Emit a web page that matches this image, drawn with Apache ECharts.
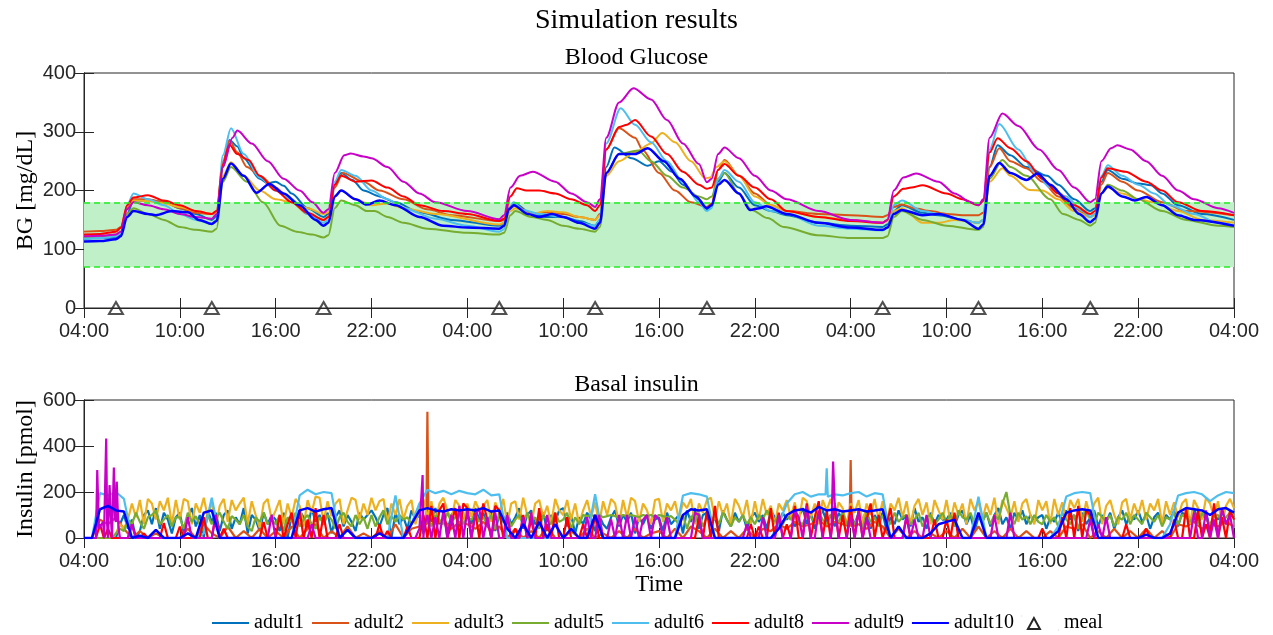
<!DOCTYPE html>
<html>
<head>
<meta charset="utf-8">
<title>Simulation results</title>
<script src="https://cdn.jsdelivr.net/npm/echarts@6/dist/echarts.min.js"></script>
<style>
html, body { margin: 0; padding: 0; background: #fff; }
#chart { width: 1273px; height: 635px; }
</style>
</head>
<body>
<div id="chart"></div>
<script>
// hours since 04:00 on day 1
const names = ['adult1', 'adult2', 'adult3', 'adult5', 'adult6', 'adult8', 'adult9', 'adult10'];
const colors = ['#0072BD', '#D95319', '#EDB120', '#77AC30', '#4DBEEE', '#FF0000', '#C800C8', '#0000FF'];
const mealHours = [2, 8, 15, 26, 32, 39, 50, 56, 63];

// blood glucose [hour, mg/dL]
const bg1 = [[0,118],[1,119],[2,120],[2.3,124],[2.7,160],[3.1,183],[4,182],[5,181],[6,170],[7,160],[8,150],
  [8.3,156],[8.7,240],[9.1,286],[9.6,275],[10,255],[11,220],[11.5,212],[12,215],[12.5,208],[13,195],[14,170],[15,155],
  [15.3,160],[15.7,210],[16.1,230],[16.8,218],[17.5,200],[18.5,190],[19.5,180],[21,163],[23,150],[26,140],
  [26.3,145],[26.6,170],[27,178],[28,160],[29,155],[30,155],[31,148],[32,140],
  [32.3,150],[32.7,240],[33.2,273],[34.3,255],[35.3,242],[36,250],[36.8,232],[37.5,210],[38.5,185],[39,168],
  [39.3,175],[39.7,215],[40.1,230],[41,205],[42,175],[43,165],[44,158],[46,145],[48,140],[50,138],
  [50.3,142],[50.7,165],[51.2,175],[52.5,162],[53.5,158],[55,150],[56,145],
  [56.3,150],[56.7,240],[57.2,277],[58,260],[59,240],[60.3,225],[61,210],[62,185],[63,165],
  [63.3,170],[63.7,215],[64.1,235],[65,220],[66,212],[66.8,209],[67.5,195],[68.5,175],[70,160],[72,150]];
const bg2 = [[0,130],[1,131],[2,133],[2.3,138],[2.7,170],[3.1,185],[4,185],[5,180],[6,170],[7,162],[8,160],
  [8.3,165],[8.7,250],[9.1,285],[9.6,265],[10.2,240],[11,225],[12,205],[13,180],[14,160],[15,150],
  [15.3,155],[15.7,205],[16.2,230],[17.5,215],[18.5,200],[20,185],[21.5,168],[23,158],[26,148],
  [26.3,150],[26.7,170],[27,175],[28,160],[29,163],[30,160],[31,155],[32,150],
  [32.3,160],[32.7,270],[33.5,306],[34.5,290],[35,268],[36,230],[37,200],[38,180],[39,172],
  [39.3,178],[39.7,235],[40.1,252],[41,225],[42,195],[43,175],[44,165],[46,160],[48,158],[50,155],
  [50.3,158],[50.7,172],[51.2,176],[52,170],[53,165],[54,160],[55,158],[56,158],
  [56.3,162],[56.7,240],[57.3,272],[58,250],[59,238],[60,215],[61,190],[62,170],[63,155],
  [63.3,160],[63.7,210],[64.1,230],[65,215],[66,200],[67.5,180],[69,165],[72,158]];
const bg3 = [[0,122],[1,123],[2,125],[2.3,130],[2.7,168],[3.1,183],[4,182],[5,178],[6,172],[7,165],[8,160],
  [8.3,163],[8.7,225],[9.2,248],[10,225],[11,200],[12,185],[13,180],[14,170],[15,160],
  [15.3,163],[15.7,190],[16.1,200],[17,185],[18,175],[19,178],[20,170],[22,160],[26,142],
  [26.3,145],[26.7,165],[27,170],[28,160],[29,165],[30,163],[31,155],[32,150],
  [32.3,158],[32.7,225],[33.5,250],[34.5,265],[35.5,280],[36.2,298],[37,282],[38,250],[38.9,221],
  [39.2,222],[39.6,240],[40.1,250],[41,225],[42,190],[43,175],[44,165],[46,155],[48,150],[50,145],
  [50.3,148],[50.7,165],[51.2,170],[52.5,145],[53.5,145],[54.5,150],[56,145],
  [56.3,150],[56.7,215],[57.5,238],[58,225],[59.2,201],[60,200],[61,185],[62,165],[63,155],
  [63.3,158],[63.7,195],[64.1,205],[65,195],[66,185],[67,180],[68.5,165],[70,150],[72,145]];
const bg5 = [[0,120],[1,121],[2,123],[2.3,128],[2.7,160],[3.1,170],[4,160],[5,150],[6,138],[7,133],[8,130],
  [8.3,135],[8.7,215],[9.2,240],[10.2,215],[11.2,180],[12.3,140],[13.3,130],[14.3,125],[15,120],
  [15.3,124],[15.7,170],[16.1,183],[17,175],[17.7,165],[18.2,165],[19,155],[20,145],[21.5,135],[24,128],[26,125],
  [26.3,128],[26.7,158],[27,165],[28,155],[29,150],[30,140],[31,135],[32,130],
  [32.3,138],[32.7,230],[33.5,262],[34.7,268],[35.5,250],[36.5,225],[37.5,205],[38.5,190],[39,185],
  [39.3,190],[39.7,220],[40.1,230],[41,195],[41.8,167],[42.8,153],[43.8,138],[45.9,124],[48,119],[50,119],
  [50.3,122],[50.7,155],[51.2,165],[52.5,150],[54,140],[56,133],
  [56.3,138],[56.7,220],[57.5,252],[58,240],[59,225],[60.5,185],[61.3,160],[62.3,150],[63,140],
  [63.3,145],[63.7,195],[64.1,210],[65,200],[66,185],[67.5,165],[69,150],[71,140],[72,138]];
const bg6 = [[0,118],[1,119],[2,122],[2.3,128],[2.7,175],[3.1,195],[4,185],[5,175],[6,160],[7,150],[8,143],
  [8.3,150],[8.7,260],[9.2,306],[10,262],[11,222],[12,200],[13,185],[14,160],[15,145],
  [15.3,150],[15.7,215],[16.1,235],[17,225],[18,200],[19,185],[20,170],[22,152],[24,140],[26,130],
  [26.3,134],[26.6,170],[26.9,180],[27.5,167],[28.5,160],[30,155],[31,145],[32,140],
  [32.3,150],[32.7,280],[33.6,340],[34.5,312],[35.5,282],[36.5,250],[37.5,215],[38.5,180],[39,165],
  [39.3,170],[39.7,220],[40.1,235],[41,215],[42,180],[43,165],[44,160],[46,140],[48,135],[50,132],
  [50.3,136],[50.7,175],[51.2,183],[52.5,165],[53.5,160],[55,150],[56,145],
  [56.3,150],[56.7,270],[57.3,313],[58.5,270],[59.5,232],[60.5,205],[61.5,190],[62.5,165],[63,155],
  [63.3,160],[63.7,225],[64.1,243],[65,225],[66,210],[67,195],[68,175],[69.5,160],[71,145],[72,140]];
const bg8 = [[0,125],[1,126],[2,130],[2.3,136],[2.7,175],[3.1,188],[4,192],[5,183],[6,175],[7,165],[8,160],
  [8.3,165],[8.7,245],[9.1,278],[9.6,262],[10.3,252],[11,225],[12,200],[13,180],[14,162],[15,150],
  [15.3,155],[15.7,210],[16.1,225],[17,215],[18,217],[19,205],[20,190],[21,175],[22.5,165],[24,160],[26,148],
  [26.3,152],[26.7,190],[27.1,204],[27.7,200],[28.5,200],[29.5,195],[30.5,185],[31.5,175],[32,165],
  [32.3,175],[32.7,270],[33.5,308],[34,312],[34.5,320],[35.5,292],[36.5,262],[37.5,232],[38.5,210],[39,203],
  [39.3,205],[39.7,235],[40.1,245],[41,225],[42,205],[43,185],[44,165],[46,155],[48,148],[50,145],
  [50.3,150],[50.7,190],[51.3,203],[51.8,205],[52.5,209],[54,195],[55,185],[56,175],
  [56.3,182],[56.7,265],[57.2,289],[58,272],[59,250],[60,220],[61,195],[62,175],[63,160],
  [63.3,165],[63.7,222],[64.1,238],[65.2,232],[66.5,215],[67.5,200],[68.5,180],[70,165],[72,158]];
const bg9 = [[0,122],[1,123],[2,125],[2.3,130],[2.7,168],[3.1,180],[4,175],[5,168],[6,160],[7,155],[8,152],
  [8.3,160],[8.7,240],[9.3,290],[9.6,302],[10.5,280],[11.5,250],[12.5,220],[13.5,200],[14.3,180],[15,162],
  [15.3,168],[15.7,230],[16.3,260],[16.7,263],[17.5,258],[18,255],[19,240],[20,215],[21,195],[22,180],[24,165],[26,151],
  [26.3,158],[26.7,205],[27.3,225],[28.1,232],[29.5,215],[30.5,195],[31.5,180],[32,172],
  [32.3,185],[32.7,290],[33.5,350],[34.4,374],[35.5,355],[36.5,320],[37.5,280],[38.5,245],[39,214],
  [39.3,220],[39.7,262],[40.1,273],[41,255],[42,225],[43,200],[44,185],[46,165],[48,150],[50,145],
  [50.3,150],[50.7,200],[51.3,222],[52.1,229],[53.5,215],[54.5,195],[55.5,180],[56,175],
  [56.3,185],[56.7,290],[57.5,331],[58.5,310],[59.8,270],[61,235],[62,205],[63,180],
  [63.3,185],[63.7,250],[64.3,272],[64.7,277],[65.5,270],[66.5,250],[67.5,225],[68.5,200],[69.5,185],[71,170],[72,162]];
const bg10 = [[0,113],[1,114],[2,117],[2.3,122],[2.7,155],[3.1,165],[4,160],[4.5,158],[5.5,165],[6.5,163],[7.2,150],[8,143],
  [8.3,148],[8.7,220],[9.2,246],[10,225],[10.8,196],[11.6,211],[12.5,195],[13.5,175],[14.5,150],[15,140],
  [15.3,145],[15.7,190],[16.1,200],[17,185],[17.7,176],[18.5,183],[19.5,175],[21,155],[22.5,140],[24,137],[26,135],
  [26.3,140],[26.6,168],[26.9,175],[27.8,160],[28.5,155],[29.3,160],[30,155],[31,145],[32,135],
  [32.3,145],[32.7,230],[33.5,262],[34.5,262],[35.3,272],[36.3,250],[37.3,220],[38.3,190],[39,170],
  [39.3,175],[39.7,210],[40.1,218],[41,195],[41.7,167],[42.3,170],[42.7,173],[44,160],[46,145],[48,137],[50,133],
  [50.3,137],[50.7,160],[51.2,167],[52.5,158],[53.5,160],[55,150],[56,135],
  [56.3,142],[56.7,225],[57.3,247],[58,230],[59,218],[59.7,229],[60.5,210],[61.5,185],[62.3,160],[63,146],
  [63.3,152],[63.7,195],[64.1,207],[65,190],[65.8,183],[66.5,189],[67.5,175],[68.5,158],[69.5,150],[72,140]];

// basal insulin [pmol] from 04:00 to 04:00: noisy pumps every 15 min (289 values),
// the steadier ones every 30 min (145 values); one row = 6 hours
const ins1 = [0,0,0,0,0,0,0,0,0,60,100,40,80,0,30,100,120,60,130,40,110,80,20,90,
  110,20,90,130,50,100,0,120,70,110,30,100,120,40,90,60,130,20,100,80,30,110,60,100,
  80,30,110,0,100,60,120,90,40,130,70,100,60,110,20,90,120,50,100,70,30,110,80,100,
  120,90,50,100,130,0,110,60,90,40,120,80,100,20,110,70,130,60,90,30,100,120,50,80,
  100,60,130,80,110,50,120,30,100,70,110,60,90,130,40,100,120,60,80,110,30,100,70,120,
  130,50,100,20,90,60,110,80,30,100,60,40,90,120,50,100,70,110,20,90,60,100,40,80,
  90,30,110,60,80,100,20,120,70,130,40,100,110,60,90,30,120,80,50,110,70,100,40,90,
  110,70,100,40,120,90,60,110,80,100,50,90,130,60,110,40,90,120,70,100,50,110,80,60,
  100,60,110,80,120,40,100,70,110,30,90,60,120,80,100,50,130,70,90,40,110,60,100,80,
  80,110,50,100,120,60,100,30,90,70,110,50,100,130,60,90,40,110,80,120,60,100,70,90,
  100,40,90,70,110,60,120,80,100,30,110,60,90,120,50,100,70,110,40,90,120,60,100,80,
  120,70,100,40,90,110,60,100,80,120,50,110,100,60,130,70,90,110,40,100,80,120,60,100,
  90];
const ins2 = [0,0,80,60,90,40,0,30,0,20,0,0,
  0,40,0,60,20,0,50,0,30,0,40,0,
  30,0,50,0,40,60,0,30,0,50,0,20,
  0,30,0,60,0,40,50,549,60,80,40,70,
  60,40,70,30,50,0,40,0,30,0,50,0,
  0,30,0,40,0,20,0,30,0,40,0,20,
  30,0,40,0,50,30,0,40,0,30,0,40,
  0,40,30,60,40,70,50,60,80,50,70,60,
  339,60,40,70,50,0,40,0,30,0,20,0,
  30,0,40,0,50,0,30,0,40,0,30,0,
  0,30,0,50,40,60,0,30,0,40,0,30,
  0,40,0,30,0,60,50,70,40,60,50,70,
  50];
const ins3 = [0,0,0,0,0,0,0,0,20,60,40,80,150,90,165,60,170,150,80,160,120,175,60,165,
  80,170,160,60,150,110,175,90,160,50,140,170,70,165,120,150,175,60,160,100,45,150,170,80,
  120,165,60,150,90,170,140,50,165,110,180,175,70,160,95,150,170,60,120,175,165,80,150,100,
  175,120,160,170,60,150,100,170,80,140,165,60,130,170,90,160,60,150,175,120,80,165,140,60,
  150,90,160,120,140,165,70,155,110,170,60,150,160,80,175,100,60,150,165,90,140,60,170,120,
  100,165,80,150,60,120,165,90,155,60,160,100,170,150,60,165,90,175,160,70,150,120,60,165,
  170,70,150,120,160,80,155,130,170,60,150,110,165,175,80,160,100,150,60,170,140,90,165,60,
  160,80,170,100,140,60,150,120,165,90,155,70,175,160,90,150,60,165,120,170,80,155,130,60,
  150,110,165,60,150,100,170,80,160,60,150,120,175,90,160,60,140,170,100,155,60,165,120,80,
  165,70,155,100,150,60,170,120,160,80,150,100,175,60,165,130,90,160,70,150,170,100,60,165,
  120,160,60,170,100,155,80,165,130,170,70,160,90,150,175,60,140,165,100,60,155,170,80,150,
  100,165,80,150,120,170,60,160,100,155,90,150,170,60,165,130,80,175,150,90,160,60,140,170,
  130];
const ins5 = [0,0,0,0,0,0,0,0,20,40,30,80,60,110,70,40,90,100,120,60,80,100,50,90,
  90,40,110,70,95,60,30,100,60,85,110,70,40,95,80,60,100,50,30,90,70,110,60,80,
  60,100,30,90,70,110,50,80,100,60,40,90,60,100,80,40,90,110,70,50,100,60,90,40,
  100,50,90,120,60,95,70,100,80,90,60,100,110,70,90,50,100,80,60,110,70,90,100,60,
  90,80,100,70,90,60,100,40,110,70,95,50,80,100,60,110,70,90,40,100,80,60,110,70,
  80,110,40,90,60,100,95,100,95,100,90,95,100,95,90,100,95,100,95,90,100,95,100,90,
  100,95,90,95,80,60,100,40,95,70,110,50,90,70,100,60,110,80,50,90,70,100,60,90,
  60,100,80,120,90,70,100,60,95,80,110,70,60,100,90,70,110,80,60,100,90,70,110,60,
  90,60,100,40,110,70,90,50,100,80,60,110,70,90,100,60,80,110,50,90,100,60,80,110,
  70,100,50,120,90,80,110,60,100,70,110,60,100,80,150,200,100,60,110,80,95,60,100,70,
  60,100,70,90,50,110,80,60,100,40,90,120,80,60,110,90,70,100,50,90,80,110,60,100,
  80,60,110,90,70,100,50,90,80,110,60,100,90,70,100,60,110,80,60,95,100,70,90,110,
  90];
const ins6 = [0,0,195,185,200,170,0,0,0,0,0,0,
  0,0,0,20,175,0,0,0,0,0,0,0,
  0,0,0,185,210,190,200,195,0,0,0,0,
  0,0,0,185,0,60,150,210,195,205,190,205,
  195,190,210,185,190,0,0,0,0,0,0,0,
  0,0,0,0,190,0,0,0,0,0,0,0,
  0,0,0,185,195,190,180,0,0,0,0,0,
  0,0,0,60,150,190,200,180,190,303,190,185,
  195,200,180,195,190,0,0,0,0,0,0,0,
  0,0,0,0,180,0,0,0,0,0,0,0,
  0,0,50,180,195,200,195,0,0,0,0,0,
  0,0,0,0,60,185,195,200,190,160,185,200,
  195];
const ins8 = [0,0,0,0,60,0,40,0,0,0,0,0,60,0,0,20,0,0,0,0,65,0,0,0,
  50,0,0,0,0,0,90,0,0,100,0,40,0,0,0,0,0,0,0,0,0,70,0,0,
  0,100,0,60,110,0,120,0,80,0,130,0,100,0,0,0,60,0,0,0,0,0,0,0,
  0,0,60,0,30,0,0,0,0,50,0,0,0,100,0,140,0,120,150,0,60,130,0,150,
  130,0,110,0,150,80,0,140,120,0,90,0,40,0,100,0,80,0,130,0,60,0,110,0,
  0,90,0,0,0,60,0,0,100,0,0,0,0,0,0,0,0,0,0,0,0,0,0,0,
  0,0,0,0,0,0,0,0,0,0,90,0,120,0,140,0,0,0,0,0,0,0,0,60,
  0,50,0,0,130,0,110,0,60,0,140,0,0,150,0,90,160,0,120,0,140,0,100,0,
  140,0,120,0,80,150,0,100,0,60,130,0,0,0,90,0,0,0,0,0,0,80,0,0,
  80,0,110,0,0,0,0,0,0,0,0,0,0,0,0,0,0,0,0,0,0,0,0,0,
  40,0,0,0,0,90,0,130,0,140,0,120,100,0,0,0,0,0,0,0,0,60,0,0,
  0,0,40,0,0,0,0,0,0,80,0,0,130,0,0,120,0,60,0,150,0,90,0,120,
  80];
const ins9 = [0,0,0,0,50,0,0,0,70,0,0,0,60,0,0,0,0,0,0,0,0,0,0,0,
  0,0,90,0,0,0,0,0,0,100,0,0,0,0,0,0,0,0,0,0,0,0,0,100,
  0,0,0,0,0,0,0,0,0,60,0,0,0,0,0,0,0,0,0,0,0,0,0,0,
  0,0,0,0,0,0,0,0,0,0,0,0,40,0,100,0,90,0,120,0,100,0,140,0,
  120,0,100,130,0,90,0,110,0,0,100,0,0,0,90,0,110,0,0,0,100,0,0,0,
  0,0,0,0,0,0,90,0,0,100,0,0,80,0,100,0,100,0,90,0,80,100,0,100,
  80,0,90,0,0,0,0,0,0,110,100,0,0,0,0,0,0,0,0,0,0,0,60,0,
  0,0,90,0,0,0,100,0,0,0,120,90,0,140,0,0,120,0,0,0,150,0,0,0,
  100,0,120,0,90,0,0,0,0,0,0,0,0,0,100,0,80,0,0,100,0,0,0,0,
  0,0,0,0,0,0,0,0,0,0,0,0,100,0,0,0,110,0,0,0,0,0,0,0,
  0,0,0,0,0,0,0,0,0,0,0,0,80,0,60,0,90,0,0,0,0,0,0,0,
  0,0,0,0,0,0,0,0,0,0,0,0,0,0,110,0,0,120,0,80,0,130,60,100,
  0];
const ins10 = [0,0,125,140,120,115,0,10,0,35,0,0,
  0,20,0,110,120,0,0,0,0,0,0,0,
  0,0,0,120,130,115,125,130,0,35,0,0,
  0,20,0,0,0,60,120,130,120,115,125,120,
  125,120,130,115,120,40,0,60,0,70,0,60,
  0,40,0,0,100,0,0,0,0,0,0,0,
  0,0,0,100,125,120,125,0,0,0,0,0,
  0,0,0,40,100,120,125,110,135,120,125,115,
  120,125,115,120,125,0,50,0,0,0,20,60,
  70,80,0,0,110,0,0,0,0,0,0,0,
  0,0,30,110,120,125,120,0,0,0,0,0,
  0,15,0,0,20,110,130,125,120,100,125,130,
  110];
// short spikes between the regular samples [hour, pmol]
const ins2Extra = [[21.43,60],[21.57,60],[47.93,50],[48.07,50]];
const ins6Extra = [[46.43,190],[46.57,180]];
const ins9Extra = [[0.83,296],[0.93,40],[1.2,70],[1.39,433],[1.45,60],[1.6,230],[1.7,70],[1.87,306],[1.95,80],
  [2.05,245],[2.15,50],[21.2,274],[21.3,50],[46.8,40],[46.9,332]];

const bgData = [bg1, bg2, bg3, bg5, bg6, bg8, bg9, bg10];
const insData = [ins1, ins2, ins3, ins5, ins6, ins8, ins9, ins10];
const insExtra = [[], ins2Extra, [], [], ins6Extra, [], ins9Extra, []];

function insSeriesData(vals, extra) {
  let step = 72 / (vals.length - 1);
  let pts = vals.map((v, i) => [i * step, v]).concat(extra);
  pts.sort((a, b) => a[0] - b[0]);
  return pts;
}

function hourLabel(v) {
  let hh = (4 + v) % 24;
  return (hh < 10 ? '0' : '') + hh + ':00';
}

const serif = 'Liberation Serif';
const sans = 'Liberation Sans';
const axisColor = '#262626';

function xAx(grid, pos, labels, name) {
  return {
    type: 'value', gridIndex: grid, position: pos, min: 0, max: 72, interval: 6,
    name: name || '', nameLocation: 'middle', nameGap: 35,
    nameTextStyle: { fontFamily: serif, fontSize: 23, color: '#000' },
    axisLine: { show: true, lineStyle: { color: axisColor, width: 1 } },
    axisTick: { show: true, inside: true, length: 10, lineStyle: { color: axisColor } },
    axisLabel: { show: labels, formatter: hourLabel, fontFamily: sans, fontSize: 20, color: axisColor, margin: 13 },
    splitLine: { show: false }
  };
}
function yAx(grid, pos, max, interval, labels, name) {
  return {
    type: 'value', gridIndex: grid, position: pos, min: 0, max: max, interval: interval,
    name: name || '', nameLocation: 'middle', nameGap: 46, nameMoveOverlap: false,
    nameTextStyle: { fontFamily: serif, fontSize: 24, color: '#000' },
    axisLine: { show: true, lineStyle: { color: axisColor, width: 1 } },
    axisTick: { show: true, inside: true, length: 10, lineStyle: { color: axisColor } },
    axisLabel: { show: labels, fontFamily: sans, fontSize: 20, color: axisColor, margin: 8 },
    splitLine: { show: false }
  };
}

let series = [];
// target band
series.push({
  type: 'line', name: 'band', xAxisIndex: 0, yAxisIndex: 0, data: [[0, 70]], symbol: 'none',
  lineStyle: { opacity: 0 }, z: 1, silent: true,
  markArea: { silent: true, itemStyle: { color: '#bff0c8' }, data: [[{ xAxis: 0, yAxis: 70 }, { xAxis: 72, yAxis: 180 }]] },
  markLine: { silent: true, symbol: 'none', label: { show: false },
    lineStyle: { color: '#22ee22', type: [6, 4], width: 1.5 },
    data: [{ yAxis: 70 }, { yAxis: 180 }] }
});
names.forEach((n, k) => {
  series.push({
    type: 'line', name: n, xAxisIndex: 0, yAxisIndex: 0, data: bgData[k],
    symbol: 'none', smooth: 0.3, smoothMonotone: 'x', z: 3,
    lineStyle: { color: colors[k], width: n === 'adult10' ? 2.5 : 2 }, itemStyle: { color: colors[k] }
  });
});
series.push({
  type: 'scatter', name: 'meal', xAxisIndex: 0, yAxisIndex: 0, clip: false, z: 5,
  data: mealHours.map(h => [h, 0]), symbol: 'triangle', symbolSize: [14, 12],
  itemStyle: { color: 'rgba(0,0,0,0)', borderColor: axisColor, borderWidth: 2 }
});
names.forEach((n, k) => {
  series.push({
    type: 'line', name: n, xAxisIndex: 2, yAxisIndex: 2, data: insSeriesData(insData[k], insExtra[k]),
    symbol: 'none', z: 3,
    lineStyle: { color: colors[k], width: n === 'adult10' ? 2.5 : 2.2 }, itemStyle: { color: colors[k] }
  });
});

const chart = echarts.init(document.getElementById('chart'));
chart.setOption({
  animation: false,
  backgroundColor: '#fff',
  title: [
    { text: 'Simulation results', left: 'center', top: 2, textStyle: { fontFamily: serif, fontWeight: 'normal', fontSize: 28, color: '#000' } },
    { text: 'Blood Glucose', left: 'center', top: 41, textStyle: { fontFamily: serif, fontWeight: 'normal', fontSize: 24, color: '#000' } },
    { text: 'Basal insulin', left: 'center', top: 368, textStyle: { fontFamily: serif, fontWeight: 'normal', fontSize: 24, color: '#000' } }
  ],
  legend: {
    top: 613, left: 211, padding: 0, itemWidth: 37, itemHeight: 14, itemGap: 7,
    itemStyle: { opacity: 0 },
    textStyle: { fontFamily: serif, fontSize: 20, color: '#000' },
    data: names.map(n => ({ name: n })).concat([{ name: 'meal',
      icon: 'path://M0,0L0.1,0M37,14L36.9,14M6,13L12,2L18,13Z',
      itemStyle: { opacity: 1, color: 'rgba(0,0,0,0)', borderColor: axisColor, borderWidth: 2 } }])
  },
  grid: [
    { left: 84, top: 73, width: 1150, height: 235, show: true, borderColor: axisColor, borderWidth: 1, backgroundColor: 'transparent' },
    { left: 84, top: 400, width: 1150, height: 138, show: true, borderColor: axisColor, borderWidth: 1, backgroundColor: 'transparent' }
  ],
  xAxis: [xAx(0, 'bottom', true), xAx(0, 'top', false), xAx(1, 'bottom', true, 'Time'), xAx(1, 'top', false)],
  yAxis: [yAx(0, 'left', 400, 100, true, 'BG [mg/dL]'), yAx(0, 'right', 400, 100, false),
    yAx(1, 'left', 600, 200, true, 'Insulin [pmol]'), yAx(1, 'right', 600, 200, false)],
  series: series
});
</script>
</body>
</html>
